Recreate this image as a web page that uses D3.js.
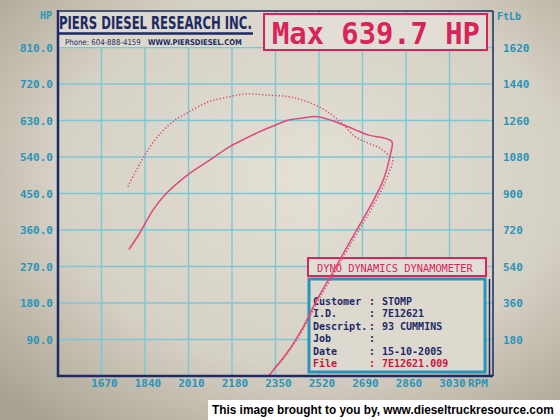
<!DOCTYPE html>
<html>
<head>
<meta charset="utf-8">
<script src="https://cdn.jsdelivr.net/npm/d3@7"></script>
<style>
body { margin: 0; background: #cfcabd; }
svg { display: block; }
</style>
</head>
<body>
<div></div>
<script>
// power run: rpm climbs then the roller coasts back down
var hpRpm  = [1777, 1819, 1871, 1923, 2007, 2104, 2169, 2221, 2286, 2351, 2402, 2455, 2505, 2550, 2584, 2662, 2714, 2779, 2805,
              2797, 2771, 2719, 2667, 2615, 2563, 2511, 2459, 2394, 2348, 2321, 2301];
var hpVals = [312, 352, 409, 450, 496, 537, 565, 582, 602, 619, 631, 636, 639.7, 634, 627, 607, 594, 586, 578,
              541, 483, 417, 360, 302, 244, 187, 122, 56, 20, 0, 0];

var tqRpm  = [1773, 1832, 1884, 1949, 2013, 2091, 2169, 2234, 2312, 2402, 2454, 2519, 2571, 2610, 2662, 2714, 2753, 2785, 2800,
              2809, 2782, 2729, 2676, 2624, 2571, 2518, 2463, 2397, 2350, 2321];
var tqVals = [934, 1073, 1172, 1254, 1303, 1353, 1377, 1391, 1386, 1377, 1361, 1328, 1287, 1246, 1180, 1148, 1128, 1098, 1080,
              1075, 967, 833, 720, 607, 488, 375, 242, 113, 39, 0];

var hpTicks  = [90, 180, 270, 360, 450, 540, 630, 720, 810];
var tqTicks  = [180, 360, 540, 720, 900, 1080, 1260, 1440, 1620];
var rpmTicks = [1670, 1840, 2010, 2180, 2350, 2520, 2690, 2860, 3030];

var infoLabels = ['Customer', 'I.D.', 'Descript.', 'Job', 'Date', 'File'];
var infoValues = ['STOMP', '7E12621', '93 CUMMINS', '', '15-10-2005', '7E12621.009'];
var maxHp = 639.7;

var width = 560;
var height = 420;
var navy = '#1d2a66';
var teal = '#2a93b8';
var gridCol = '#7cc7d6';
var red = '#d8245a';
var curveCol = '#de4a78';
var mono = '"DejaVu Sans Mono", "Liberation Mono", monospace';

var svg = d3.select('div')
    .append('svg')
    .attr('width', width)
    .attr('height', height);

// squeeze a text horizontally so it spans exactly w pixels
function fitText(sel, x0, y0, w) {
    var len = sel.node().getComputedTextLength();
    sel.attr('transform', 'translate(' + x0 + ',' + y0 + ') scale(' + (w / len) + ',1)');
}

// photo vignette
var defs = svg.append('defs');
var grad = defs.append('radialGradient')
    .attr('id', 'vig')
    .attr('cx', '55%').attr('cy', '42%').attr('r', '75%');
grad.append('stop').attr('offset', '0%').attr('stop-color', '#e4e0d6');
grad.append('stop').attr('offset', '60%').attr('stop-color', '#d6d1c5');
grad.append('stop').attr('offset', '100%').attr('stop-color', '#a8a391');
svg.append('rect')
    .attr('width', width).attr('height', height)
    .attr('fill', 'url(#vig)');

var x = d3.scaleLinear().domain([1500, 3200]).range([58, 493]);
var yHp = d3.scaleLinear().domain([0, 900]).range([376, 11]);
var yTq = d3.scaleLinear().domain([0, 1800]).range([376, 11]);

// grid
svg.append('g')
    .selectAll('line')
    .data(hpTicks)
    .enter()
    .append('line')
    .attr('x1', x(1500)).attr('x2', x(3200))
    .attr('y1', d => yHp(d)).attr('y2', d => yHp(d))
    .attr('stroke', gridCol)
    .attr('stroke-width', 1.4);

svg.append('g')
    .selectAll('line')
    .data(rpmTicks)
    .enter()
    .append('line')
    .attr('x1', d => x(d)).attr('x2', d => x(d))
    .attr('y1', yHp(900)).attr('y2', yHp(0))
    .attr('stroke', gridCol)
    .attr('stroke-width', 1.4);

// header block
svg.append('rect')
    .attr('x', 59).attr('y', 12)
    .attr('width', 204).attr('height', 35)
    .attr('fill', '#dcd8ce');

var title = svg.append('text')
    .attr('font-family', '"DejaVu Sans Condensed", "Liberation Sans Narrow", sans-serif')
    .attr('font-size', 18)
    .attr('font-weight', 'bold')
    .attr('fill', navy)
    .text('PIERS DIESEL RESEARCH INC.');
fitText(title, 59, 29, 193);

svg.append('line')
    .attr('x1', 58).attr('x2', 253)
    .attr('y1', 33.5).attr('y2', 33.5)
    .attr('stroke', navy)
    .attr('stroke-width', 2.5);

var phone = svg.append('text')
    .attr('font-family', '"DejaVu Sans Condensed", sans-serif')
    .attr('font-size', 8)
    .attr('fill', navy)
    .text('Phone: 604-888-4159');
fitText(phone, 65, 45, 76);

var web = svg.append('text')
    .attr('font-family', '"DejaVu Sans Condensed", sans-serif')
    .attr('font-size', 8)
    .attr('font-weight', 'bold')
    .attr('fill', navy)
    .text('WWW.PIERSDIESEL.COM');
fitText(web, 148, 45, 94);

// max hp box
svg.append('rect')
    .attr('x', 264).attr('y', 14)
    .attr('width', 223).attr('height', 36)
    .attr('fill', '#e2ded5')
    .attr('stroke', red)
    .attr('stroke-width', 2);

var maxText = svg.append('text')
    .attr('font-family', mono)
    .attr('font-size', 30)
    .attr('font-weight', 'bold')
    .attr('fill', red)
    .text('Max ' + d3.format('.1f')(maxHp) + ' HP');
fitText(maxText, 272, 44, 208);

// dyno info box
svg.append('rect')
    .attr('x', 308).attr('y', 258)
    .attr('width', 178).attr('height', 18)
    .attr('fill', '#e2ded5')
    .attr('stroke', red)
    .attr('stroke-width', 2);

var dyno = svg.append('text')
    .attr('font-family', mono)
    .attr('font-size', 11)
    .attr('fill', red)
    .text('DYNO DYNAMICS DYNAMOMETER');
fitText(dyno, 317, 272, 156);

svg.append('rect')
    .attr('x', 309).attr('y', 279)
    .attr('width', 176).attr('height', 93)
    .attr('fill', '#ddd9cf')
    .attr('stroke', teal)
    .attr('stroke-width', 3);

svg.append('line')
    .attr('x1', 489.5).attr('x2', 489.5)
    .attr('y1', 279).attr('y2', 376)
    .attr('stroke', navy)
    .attr('stroke-width', 1.5);

var rows = svg.append('g')
    .attr('font-family', mono)
    .attr('font-size', 10)
    .attr('font-weight', 'bold');

rows.selectAll('.lab')
    .data(infoLabels)
    .enter()
    .append('text')
    .attr('x', 313)
    .attr('y', (d, i) => 304.5 + i * 12.5)
    .attr('fill', (d, i) => i == 5 ? '#c8183c' : navy)
    .text(d => d);

rows.selectAll('.col')
    .data(infoLabels)
    .enter()
    .append('text')
    .attr('x', 369)
    .attr('y', (d, i) => 304.5 + i * 12.5)
    .attr('fill', (d, i) => i == 5 ? '#c8183c' : navy)
    .text(':');

rows.selectAll('.val')
    .data(infoValues)
    .enter()
    .append('text')
    .attr('x', 382)
    .attr('y', (d, i) => 304.5 + i * 12.5)
    .attr('fill', (d, i) => i == 5 ? '#c8183c' : navy)
    .text(d => d);

// curves
var hpLine = d3.line()
    .x(d => x(d[0]))
    .y(d => yHp(d[1]))
    .curve(d3.curveCatmullRom);

var tqLine = d3.line()
    .x(d => x(d[0]))
    .y(d => yTq(d[1]))
    .curve(d3.curveCatmullRom);

svg.append('path')
    .attr('d', tqLine(d3.zip(tqRpm, tqVals)))
    .attr('fill', 'none')
    .attr('stroke', curveCol)
    .attr('stroke-width', 1.5)
    .attr('stroke-dasharray', '1.3 2');

svg.append('path')
    .attr('d', hpLine(d3.zip(hpRpm, hpVals)))
    .attr('fill', 'none')
    .attr('stroke', curveCol)
    .attr('stroke-width', 1.5);

// frame
svg.append('line')
    .attr('x1', 58).attr('x2', 493).attr('y1', 11).attr('y2', 11)
    .attr('stroke', navy).attr('stroke-width', 1.5);
svg.append('line')
    .attr('x1', 493).attr('x2', 493).attr('y1', 11).attr('y2', 376)
    .attr('stroke', navy).attr('stroke-width', 1.5);
svg.append('line')
    .attr('x1', 58).attr('x2', 58).attr('y1', 10).attr('y2', 377)
    .attr('stroke', navy).attr('stroke-width', 2.5);
svg.append('line')
    .attr('x1', 57).attr('x2', 493).attr('y1', 376).attr('y2', 376)
    .attr('stroke', navy).attr('stroke-width', 2.5);

// axis labels
var lab = svg.append('g')
    .attr('font-family', mono)
    .attr('font-size', 11)
    .attr('font-weight', 'bold')
    .attr('fill', teal);

lab.selectAll('.hp')
    .data(hpTicks)
    .enter()
    .append('text')
    .attr('x', 53)
    .attr('y', d => yHp(d) + 4)
    .attr('text-anchor', 'end')
    .text(d => d3.format('.1f')(d));

lab.selectAll('.tq')
    .data(tqTicks)
    .enter()
    .append('text')
    .attr('x', 503)
    .attr('y', d => yTq(d) + 4)
    .text(d => d);

lab.selectAll('.rpm')
    .data(rpmTicks)
    .enter()
    .append('text')
    .attr('x', d => x(d) + 3)
    .attr('y', 387)
    .attr('text-anchor', 'middle')
    .text(d => d);

lab.append('text').attr('x', 468).attr('y', 387).text('RPM');
lab.append('text').attr('x', 40).attr('y', 19).attr('font-size', 10).text('HP');
lab.append('text').attr('x', 497).attr('y', 20).attr('font-size', 10).text('FtLb');

// credit banner
svg.append('rect')
    .attr('x', 208).attr('y', 400)
    .attr('width', 352).attr('height', 20)
    .attr('fill', 'white');

var credit = svg.append('text')
    .attr('font-family', '"Liberation Sans", Arial, sans-serif')
    .attr('font-weight', 'bold')
    .attr('font-size', 12)
    .attr('fill', 'black')
    .text('This image brought to you by, www.dieseltruckresource.com');
fitText(credit, 212, 414, 342);
</script>
</body>
</html>
